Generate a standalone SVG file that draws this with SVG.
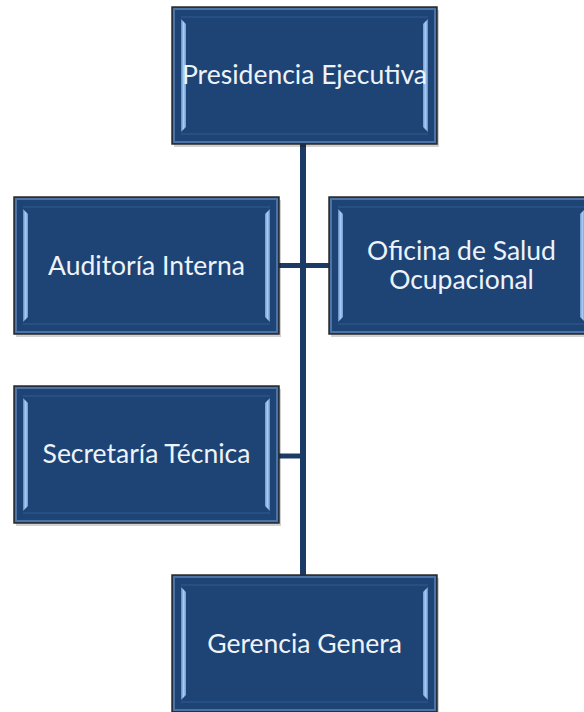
<svg xmlns="http://www.w3.org/2000/svg" width="584" height="712" viewBox="0 0 584 712">
  <defs>
    <linearGradient id="bevL" x1="0" y1="0" x2="1" y2="0">
      <stop offset="0" stop-color="#5d8ac4"/>
      <stop offset="0.5" stop-color="#a9cbf2"/>
      <stop offset="1" stop-color="#6f9ad2"/>
    </linearGradient>
    <linearGradient id="bevR" x1="0" y1="0" x2="1" y2="0">
      <stop offset="0" stop-color="#6f9ad2"/>
      <stop offset="0.5" stop-color="#a9cbf2"/>
      <stop offset="1" stop-color="#5d8ac4"/>
    </linearGradient>
    <g id="box">
      <rect x="2" y="3" width="265" height="137" fill="#000" opacity="0.18"/>
      <rect x="0" y="0" width="265" height="137" fill="#1e4476" stroke="#2b2b2b" stroke-width="1.5"/>
      <rect x="2" y="2" width="261" height="133" fill="none" stroke="#4b73a8" stroke-width="2"/>
      <polygon points="9,12 14,17 14,120 9,125" fill="url(#bevL)"/>
      <polygon points="256,12 251,17 251,120 256,125" fill="url(#bevR)"/>
      <line x1="9" y1="10" x2="256" y2="10" stroke="#2f5a91" stroke-width="1"/>
      <line x1="9" y1="127" x2="256" y2="127" stroke="#2f5a91" stroke-width="1"/>
    </g>
  </defs>
  <style>
    .lbl { font-family: Lato, "Liberation Sans", sans-serif; font-size: 26.5px; fill: #eef3fa; text-anchor: middle; }
    .conn { stroke: #1b3a66; fill: none; }
  </style>
  <rect width="584" height="712" fill="#ffffff"/>
  <g id="connectors">
    <line class="conn" x1="303" y1="144" x2="303" y2="575" stroke-width="6"/>
    <line class="conn" x1="279" y1="265.5" x2="329" y2="265.5" stroke-width="5"/>
    <line class="conn" x1="279" y1="456" x2="303" y2="456" stroke-width="5"/>
  </g>
  <g id="presidencia">
    <use href="#box" x="172" y="7"/>
    <text class="lbl" x="304.5" y="84">Presidencia Ejecutiva</text>
  </g>
  <g id="auditoria">
    <use href="#box" x="14" y="197"/>
    <text class="lbl" x="146.5" y="275">Auditoría Interna</text>
  </g>
  <g id="oficina">
    <use href="#box" x="329" y="197"/>
    <text class="lbl" x="461.5" y="260">Oficina de Salud</text>
    <text class="lbl" x="461.5" y="289">Ocupacional</text>
  </g>
  <g id="secretaria">
    <use href="#box" x="14" y="386"/>
    <text class="lbl" x="146.5" y="463">Secretaría Técnica</text>
  </g>
  <g id="gerencia">
    <use href="#box" x="172" y="575"/>
    <text class="lbl" x="304.5" y="653">Gerencia Genera</text>
  </g>
</svg>
